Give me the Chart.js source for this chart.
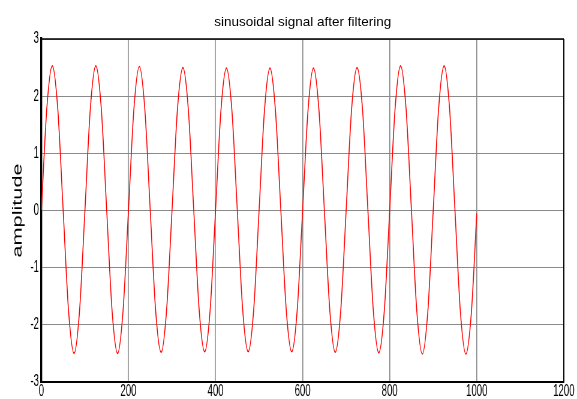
<!DOCTYPE html>
<html>
<head>
<meta charset="utf-8">
<script src="https://cdn.jsdelivr.net/npm/chart.js@4/dist/chart.umd.min.js"></script>
<style>
  html, body { margin: 0; padding: 0; background: #fff; overflow: hidden; }
  #wrap { position: relative; width: 577px; height: 399px; overflow: hidden; background: #fff; }
  #c { position: absolute; left: 0; top: 0; transform: scaleX(0.5998); transform-origin: 0 0; }
  #title { position: absolute; left: 41.5px; width: 522.5px; top: 14px; text-align: center;
           font: 13.5px 'Liberation Sans', Arial, sans-serif; line-height: 15px; color: #000; white-space: nowrap; }
</style>
</head>
<body>
<div id="wrap">
  <canvas id="c" width="962" height="399"></canvas>
  <div id="title">sinusoidal signal after filtering</div>
</div>
<script>
// ---- data ----
const sampleX = [
  0, 12.5, 25, 37.5, 50, 62.5, 75, 87.5,
  100, 112.5, 125, 137.5, 150, 162.5, 175, 187.5,
  200, 212.5, 225, 237.5, 250, 262.5, 275, 287.5,
  300, 312.5, 325, 337.5, 350, 362.5, 375, 387.5,
  400, 412.5, 425, 437.5, 450, 462.5, 475, 487.5,
  500, 512.5, 525, 537.5, 550, 562.5, 575, 587.5,
  600, 612.5, 625, 637.5, 650, 662.5, 675, 687.5,
  700, 712.5, 725, 737.5, 750, 762.5, 775, 787.5,
  800, 812.5, 825, 837.5, 850, 862.5, 875, 887.5,
  900, 912.5, 925, 937.5, 950, 962.5, 975, 987.5,
  1000
];
const amplitude = [
  0.00, 1.79, 2.53, 1.79, 0.00, -1.77, -2.50, -1.77,
  0.00, 1.79, 2.53, 1.79, 0.00, -1.77, -2.50, -1.76,
  0.00, 1.78, 2.52, 1.78, 0.00, -1.76, -2.48, -1.75,
  0.00, 1.77, 2.50, 1.77, 0.00, -1.75, -2.47, -1.75,
  0.00, 1.76, 2.49, 1.76, 0.00, -1.75, -2.47, -1.75,
  0.00, 1.76, 2.49, 1.76, 0.00, -1.75, -2.47, -1.75,
  0.00, 1.76, 2.49, 1.76, 0.00, -1.75, -2.48, -1.76,
  0.00, 1.77, 2.50, 1.78, 0.00, -1.76, -2.49, -1.77,
  0.00, 1.79, 2.53, 1.79, 0.00, -1.78, -2.51, -1.78,
  0.00, 1.79, 2.53, 1.79, 0.00, -1.78, -2.51, -1.80,
  -0.05
];
const xTickLabels = ['0', '200', '400', '600', '800', '1000', '1200'];
const yTickLabels = ['-3', '-2', '-1', '0', '1', '2', '3'];
const yAxisTitle = 'amplitude';

// ---- chart ----
const K = 0.5998; // horizontal compression of the canvas
const frame = {
  id: 'frame',
  afterDatasetsDraw(chart) {
    const a = chart.chartArea, ctx = chart.ctx;
    ctx.save();
    ctx.strokeStyle = '#000';
    ctx.lineWidth = 1.5;
    ctx.beginPath(); ctx.moveTo(a.left, a.top); ctx.lineTo(a.right, a.top); ctx.stroke();
    ctx.lineWidth = 1.2 / K;
    ctx.beginPath(); ctx.moveTo(a.right, a.top); ctx.lineTo(a.right, a.bottom); ctx.stroke();
    ctx.restore();
  }
};

new Chart(document.getElementById('c'), {
  type: 'line',
  data: {
    datasets: [{
      data: sampleX.map((x, i) => ({ x: x, y: amplitude[i] })),
      borderColor: '#ff0000',
      borderWidth: 1.6,
      pointRadius: 0,
      fill: false,
      cubicInterpolationMode: 'monotone'
    }]
  },
  options: {
    responsive: false,
    animation: false,
    events: [],
    layout: { padding: { left: 0, right: 22, top: 39, bottom: 0 } },
    plugins: { legend: { display: false }, title: { display: false }, tooltip: { enabled: false } },
    scales: {
      x: {
        type: 'linear', min: 0, max: 1200,
        afterFit(s) { s.height = 17; },
        ticks: {
          stepSize: 200, padding: 0, color: '#000', maxRotation: 0, autoSkip: false,
          font: { family: "'Liberation Sans', Arial, sans-serif", size: 16 },
          callback: (v, i) => xTickLabels[i]
        },
        grid: { color: '#8a8a8a', lineWidth: 1 / K, drawTicks: false },
        border: { color: '#000', width: 2 }
      },
      y: {
        type: 'linear', min: -3, max: 3,
        afterFit(s) { s.width = 69; },
        ticks: {
          stepSize: 1, padding: 4, color: '#000',
          font: { family: "'Liberation Sans', Arial, sans-serif", size: 16 },
          callback: (v, i) => yTickLabels[i]
        },
        grid: { color: '#8a8a8a', lineWidth: 1, drawTicks: false },
        border: { color: '#000', width: 2 / K },
        title: {
          display: true, text: yAxisTitle, color: '#000',
          font: { family: "'Liberation Sans', Arial, sans-serif", size: 21.7 },
          padding: { top: 17, bottom: 0 }
        }
      }
    }
  },
  plugins: [frame]
});
</script>
</body>
</html>
